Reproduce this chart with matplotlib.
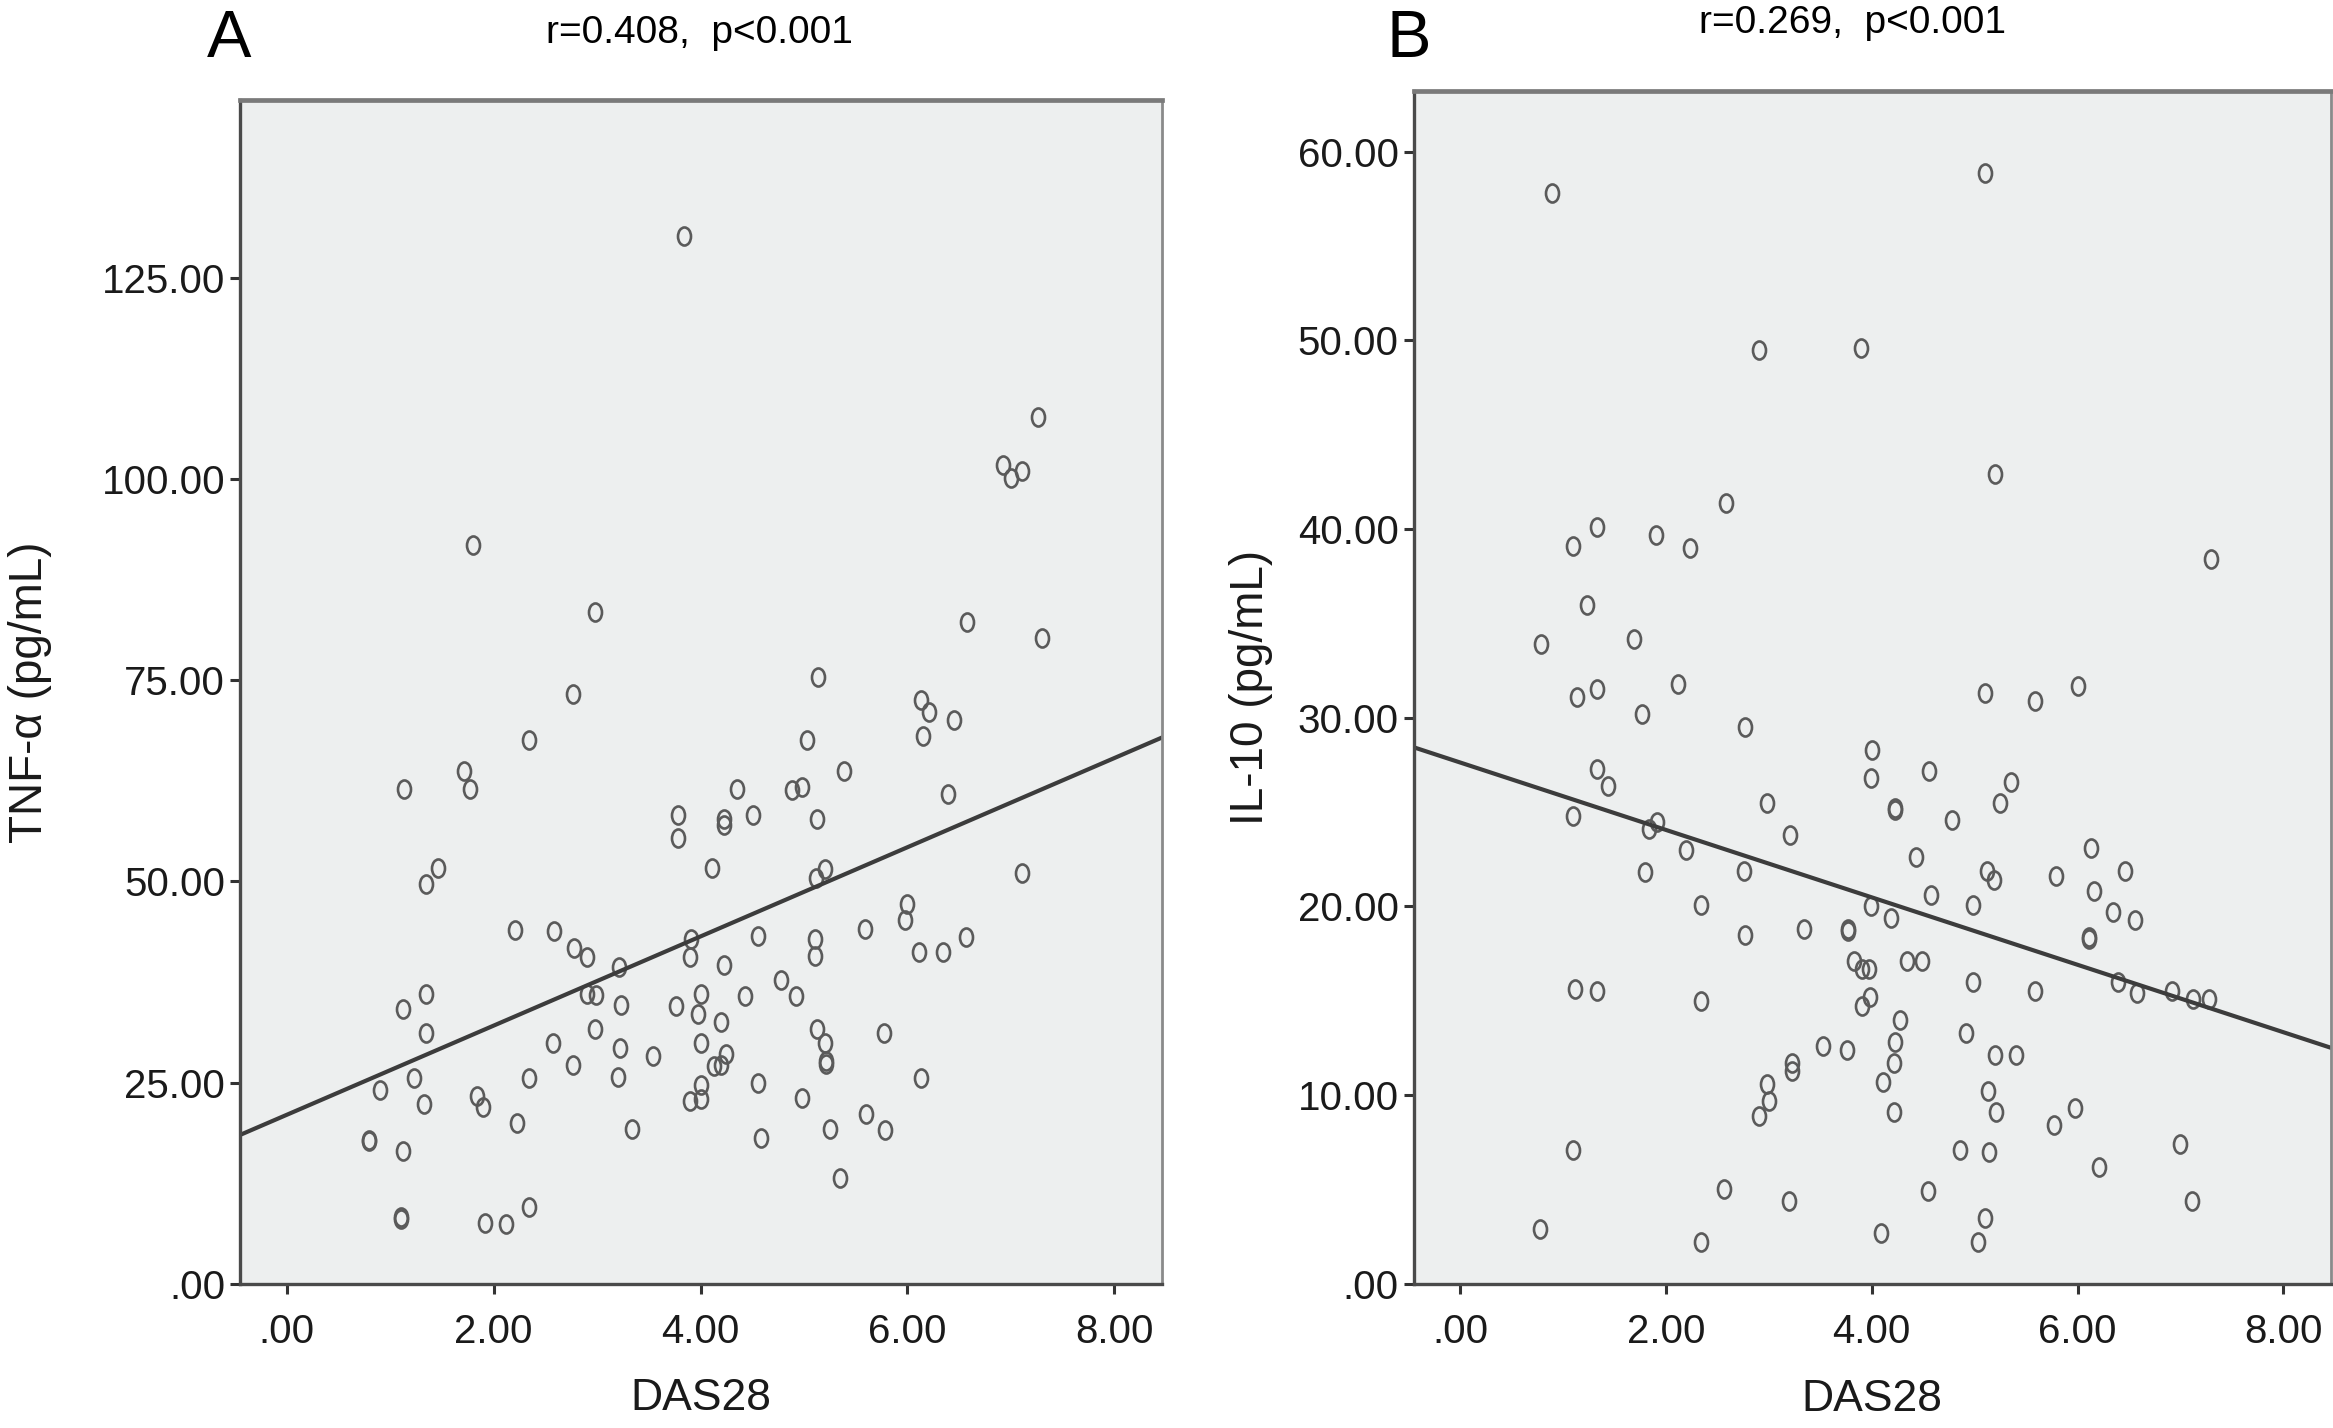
import matplotlib
matplotlib.use("Agg")
import matplotlib.pyplot as plt
import numpy as np
from matplotlib.path import Path
from matplotlib.transforms import Affine2D

plt.rcParams['font.family'] = ['Liberation Sans', 'DejaVu Sans']

# panel A: DAS28 vs TNF-alpha
das_a = [3.84, 7.26, 6.92, 7.00, 7.11, 1.80, 2.98, 6.58, 7.30, 5.14,
         2.77, 6.13, 6.21, 6.45, 6.15, 2.34, 5.03, 1.71, 1.77, 1.13,
         4.35, 4.88, 4.98, 5.39, 6.39, 3.78, 3.78, 4.23, 4.23, 4.51,
         5.13, 4.11, 1.46, 1.35, 5.20, 5.12, 7.11, 6.00, 5.98, 5.59,
         2.21, 2.58, 4.56, 5.11, 6.57, 3.91, 2.78, 2.90, 5.11, 6.11,
         6.34, 3.90, 3.21, 4.23, 4.78, 1.35, 2.90, 2.99, 4.00, 4.43,
         4.92, 3.23, 3.76, 1.12, 3.98, 4.20, 1.35, 2.98, 5.13, 5.77,
         5.20, 2.57, 4.00, 3.22, 3.54, 4.25, 4.13, 4.20, 2.77, 5.21,
         5.21, 1.23, 2.34, 3.20, 4.56, 6.13, 4.00, 0.90, 1.84, 1.90,
         1.33, 4.98, 3.90, 4.00, 2.23, 3.34, 5.25, 5.78, 5.60, 0.79,
         0.79, 4.58, 1.12, 5.35, 2.34, 1.10, 1.10, 1.92, 2.12]
tnf = [130.2, 107.7, 101.7, 100.1, 101.0, 91.8, 83.5, 82.2, 80.2, 75.4,
       73.3, 72.6, 71.0, 70.0, 68.1, 67.6, 67.6, 63.7, 61.5, 61.5,
       61.5, 61.4, 61.7, 63.7, 60.8, 58.2, 55.4, 57.7, 57.0, 58.2,
       57.8, 51.7, 51.7, 49.7, 51.6, 50.4, 51.0, 47.2, 45.2, 44.1,
       43.9, 43.8, 43.2, 42.9, 43.1, 42.9, 41.7, 40.6, 40.7, 41.2,
       41.2, 40.6, 39.3, 39.6, 37.7, 36.0, 36.0, 35.9, 36.0, 35.8,
       35.7, 34.7, 34.5, 34.2, 33.5, 32.5, 31.1, 31.6, 31.6, 31.1,
       29.9, 29.9, 29.9, 29.3, 28.3, 28.5, 27.0, 27.2, 27.2, 27.7,
       27.3, 25.6, 25.6, 25.7, 25.0, 25.6, 24.7, 24.1, 23.3, 22.0,
       22.4, 23.1, 22.7, 22.9, 20.0, 19.2, 19.2, 19.1, 21.1, 17.8,
       17.9, 18.1, 16.5, 13.2, 9.6, 8.1, 8.3, 7.5, 7.4]
fit_a = (21.0, 5.54)  # intercept, slope

# panel B: DAS28 vs IL-10
das_b = [0.89, 5.10, 2.90, 3.90, 5.20, 2.58, 1.33, 1.90, 1.10, 2.23,
         7.30, 1.23, 0.79, 1.69, 2.12, 1.33, 1.14, 5.10, 5.59, 6.00,
         1.77, 2.77, 4.00, 1.33, 1.44, 3.99, 4.56, 5.35, 2.98, 5.25,
         4.23, 4.23, 1.10, 1.91, 1.84, 4.78, 3.21, 2.20, 6.13, 4.43,
         1.80, 2.76, 5.12, 5.19, 5.79, 6.46, 6.16, 4.58, 2.34, 3.99,
         4.98, 6.34, 6.56, 4.19, 3.34, 3.77, 3.77, 2.77, 6.11, 6.11,
         3.83, 3.91, 3.97, 4.34, 4.49, 4.98, 6.39, 1.12, 1.33, 5.59,
         6.58, 6.92, 7.12, 7.28, 2.34, 3.98, 3.91, 4.27, 4.92, 3.53,
         3.76, 4.23, 4.22, 5.20, 5.40, 3.23, 3.23, 2.98, 4.11, 5.13,
         3.00, 2.90, 4.22, 5.21, 5.98, 5.77, 1.10, 4.86, 5.14, 7.00,
         6.21, 2.56, 4.55, 3.20, 7.11, 5.10, 0.78, 4.09, 2.34, 5.03]
il10 = [57.8, 58.9, 49.5, 49.6, 42.9, 41.4, 40.1, 39.7, 39.1, 39.0,
        38.4, 36.0, 33.9, 34.2, 31.8, 31.5, 31.1, 31.3, 30.9, 31.7,
        30.2, 29.5, 28.3, 27.3, 26.4, 26.8, 27.2, 26.6, 25.5, 25.5,
        25.1, 25.2, 24.8, 24.5, 24.1, 24.6, 23.8, 23.0, 23.1, 22.6,
        21.8, 21.9, 21.9, 21.4, 21.6, 21.9, 20.8, 20.6, 20.1, 20.0,
        20.1, 19.7, 19.3, 19.4, 18.8, 18.7, 18.8, 18.5, 18.3, 18.4,
        17.1, 16.7, 16.7, 17.1, 17.1, 16.0, 16.0, 15.6, 15.5, 15.5,
        15.4, 15.5, 15.1, 15.1, 15.0, 15.2, 14.7, 14.0, 13.3, 12.6,
        12.4, 12.8, 11.7, 12.1, 12.1, 11.7, 11.3, 10.6, 10.7, 10.2,
        9.7, 8.9, 9.1, 9.1, 9.3, 8.4, 7.1, 7.1, 7.0, 7.4,
        6.2, 5.0, 4.9, 4.4, 4.4, 3.5, 2.9, 2.7, 2.2, 2.2]
fit_b = (27.63, -1.787)

x_ticks = [0, 2, 4, 6, 8]
x_labels = [".00", "2.00", "4.00", "6.00", "8.00"]
y_ticks_a = [0, 25, 50, 75, 100, 125]
y_labels_a = [".00", "25.00", "50.00", "75.00", "100.00", "125.00"]
y_ticks_b = [0, 10, 20, 30, 40, 50, 60]
y_labels_b = [".00", "10.00", "20.00", "30.00", "40.00", "50.00", "60.00"]

# slightly tall hollow circle, like the SPSS markers
oval = Path.unit_circle().transformed(Affine2D().scale(0.72, 1.0))


def panel(ax, x, y, fit, ylim, yticks, ylabels, ylabel, ylab_x, xlab_y):
    ax.set_facecolor("#edefef")
    ax.plot(x, y, linestyle="none", marker=oval, markersize=13,
            markerfacecolor="none", markeredgecolor="#5a5a5a",
            markeredgewidth=1.9)
    xl = np.array([-0.45, 8.46])
    ax.plot(xl, fit[0] + fit[1] * xl, color="#3c3c3c", lw=3.0)
    ax.set_xlim(-0.45, 8.46)
    ax.set_ylim(*ylim)
    ax.set_xticks(x_ticks)
    ax.set_xticklabels(x_labels)
    ax.set_yticks(yticks)
    ax.set_yticklabels(ylabels)
    ax.tick_params(direction="out", length=7, width=2.2, colors="#333333",
                   labelsize=29, pad=4)
    ax.tick_params(axis="x", pad=14)
    for lab in ax.get_xticklabels() + ax.get_yticklabels():
        lab.set_color("#1a1a1a")
    for s in ("left", "bottom"):
        ax.spines[s].set_color("#4a4a4a")
        ax.spines[s].set_linewidth(2.4)
    ax.spines["top"].set_color("#7a7a7a")
    ax.spines["top"].set_linewidth(3.4)
    ax.spines["right"].set_color("#8a8a8a")
    ax.spines["right"].set_linewidth(2.0)
    ax.set_xlabel("DAS28", fontsize=32, color="#1a1a1a")
    ax.set_ylabel(ylabel, fontsize=33, color="#1a1a1a")
    ax.xaxis.set_label_coords(0.5, xlab_y)
    ax.yaxis.set_label_coords(ylab_x, 0.5)


fig = plt.figure(figsize=(23.33, 14.28), dpi=100)
ax_a = fig.add_axes([0.103, 0.101, 0.395, 0.829])
ax_b = fig.add_axes([0.606, 0.101, 0.393, 0.835])

panel(ax_a, das_a, tnf, fit_a, (0, 147.1), y_ticks_a, y_labels_a,
      "TNF-α (pg/mL)", -0.204, -0.080)
panel(ax_b, das_b, il10, fit_b, (0, 63.2), y_ticks_b, y_labels_b,
      "IL-10 (pg/mL)", -0.154, -0.080)

fig.text(0.098, 0.972, "A", fontsize=48, ha="center", va="center")
fig.text(0.300, 0.977, "r=0.408,  p<0.001", fontsize=28, ha="center", va="center")
fig.text(0.604, 0.972, "B", fontsize=48, ha="center", va="center")
fig.text(0.794, 0.984, "r=0.269,  p<0.001", fontsize=28, ha="center", va="center")

fig.savefig("out.png", dpi=100, facecolor="white")
